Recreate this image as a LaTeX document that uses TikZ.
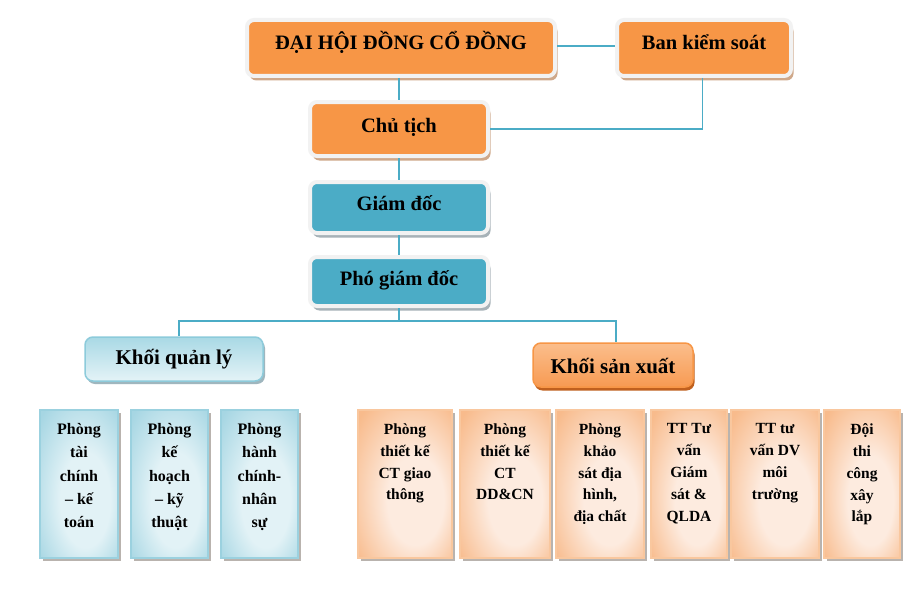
\documentclass[tikz,border=0pt]{standalone}
\usepackage{fontspec}
\setmainfont{Liberation Serif}
\usetikzlibrary{shadows}
\definecolor{org}{HTML}{F79646}
\definecolor{blu}{HTML}{4BACC6}
\definecolor{lnc}{HTML}{4BACC6}
\definecolor{framec}{HTML}{F2F2F2}
\definecolor{tanc}{HTML}{CFA88A}
\definecolor{gryc}{HTML}{A7B2B8}
\definecolor{kqlbd}{HTML}{8DCBDB}
\definecolor{kqltop}{HTML}{A9D9E5}
\definecolor{kqlbot}{HTML}{E4F3F7}
\definecolor{kqlsh}{HTML}{9FB6BE}
\definecolor{ksxtop}{HTML}{FBBE8C}
\definecolor{ksxbot}{HTML}{F79A52}
\definecolor{ksxsh}{HTML}{C0601E}
\definecolor{dbbd}{HTML}{9BD1DF}
\definecolor{dbout}{HTML}{A6D6E3}
\definecolor{dbin}{HTML}{E2F2F6}
\definecolor{dobd}{HTML}{F9C79E}
\definecolor{doout}{HTML}{F8BB8C}
\definecolor{doin}{HTML}{FDEBDF}
\definecolor{dsh}{HTML}{B9B3AE}
\pgfdeclareradialshading{bglow}{\pgfpoint{6bp}{-8bp}}{color(0bp)=(dbin); color(16bp)=(dbin); color(36bp)=(dbout); color(50bp)=(dbout)}
\pgfdeclareradialshading{oglow}{\pgfpoint{8bp}{-8bp}}{color(0bp)=(doin); color(15bp)=(doin); color(36bp)=(doout); color(50bp)=(doout)}
\begin{document}
\begin{tikzpicture}[x=1pt,y=-1pt,
  conn/.style={draw=lnc, line width=1.6pt},
  base/.style={text height=#1, text depth=0pt},
  topbox/.style={draw=framec, line width=4pt, rounded corners=7pt, inner sep=0pt,
    font=\bfseries\fontsize{20.5}{24}\selectfont,
    drop shadow={shadow xshift=2.5pt, shadow yshift=-4.5pt, fill=#1, opacity=1}},
  khoibox/.style={draw=#1, line width=1.5pt, rounded corners=8pt, inner sep=0pt,
    font=\bfseries\fontsize{21}{24}\selectfont},
  deptbox/.style={line width=2pt, inner sep=0pt, minimum height=148pt,
    drop shadow={shadow xshift=3pt, shadow yshift=-3pt, fill=dsh, opacity=1}},
  dbluebox/.style={deptbox, draw=dbbd, shading=bglow},
  dorgbox/.style={deptbox, draw=dobd, shading=oglow},
  btext/.style={anchor=north, inner sep=0pt, align=center, yshift=-14.5pt,
    font=\bfseries\fontsize{16}{23.1}\selectfont},
  otext/.style={anchor=north, inner sep=0pt, align=center, yshift=-14.5pt,
    font=\bfseries\fontsize{15.5}{21.8}\selectfont}
]
\useasboundingbox[fill=white] (0,0) rectangle (924,602);

% top boxes
\node[topbox=tanc, fill=org, minimum width=308pt, minimum height=56pt, base=4pt] (dh) at (401,48)
  {ĐẠI HỘI ĐỒNG CỔ ĐỒNG};
\node[topbox=tanc, fill=org, minimum width=174pt, minimum height=56pt, base=3pt] (bks) at (704,48)
  {Ban kiểm soát};
\node[topbox=tanc, fill=org, minimum width=178pt, minimum height=54pt, base=7.4pt] (ct) at (399,129)
  {Chủ tịch};
\node[topbox=gryc, fill=blu, minimum width=178pt, minimum height=51pt, base=6.4pt] (gd) at (399,207.5)
  {Giám đốc};
\node[topbox=gryc, fill=blu, minimum width=178pt, minimum height=49pt, base=7pt] (pgd) at (399,281.5)
  {Phó giám đốc};

% khoi boxes
\node[khoibox=kqlbd, top color=kqltop, bottom color=kqlbot, minimum width=178pt, minimum height=44pt,
  base=11pt, drop shadow={shadow xshift=2pt, shadow yshift=-3pt, fill=kqlsh, opacity=1}] (kql) at (174,359)
  {Khối quản lý};
\node[khoibox=org, top color=ksxtop, bottom color=ksxbot, minimum width=160pt, minimum height=44pt,
  base=16.6pt, drop shadow={shadow xshift=1.5pt, shadow yshift=-3.5pt, fill=ksxsh, opacity=1}] (ksx) at (613,365)
  {Khối sản xuất};

% connectors
\draw[conn] ([yshift=2pt]dh.east) -- ([yshift=2pt]dh.east -| bks.west);
\draw[conn] (ct.north |- dh.south) -- (ct.north);
\draw[conn] ([xshift=-1.5pt]bks.south) |- (ct.east);
\draw[conn] (ct.south) -- (gd.north);
\draw[conn] (gd.south) -- (pgd.north);
\coordinate (bus) at (399,321);
\draw[conn] (pgd.south) -- (bus) -| ([xshift=5pt]kql.north);
\draw[conn] (bus) -| ([xshift=3pt]ksx.north);

% management departments
\node[dbluebox, minimum width=78pt] (b1) at (79,484) {};
\node[dbluebox, minimum width=77pt] (b2) at (169.5,484) {};
\node[dbluebox, minimum width=77pt] (b3) at (259.5,484) {};
\node[btext] (tb1) at (b1.north) {Phòng\\tài\\chính\\– kế\\toán};
\node[btext] (tb2) at (b2.north) {Phòng\\kế\\hoạch\\– kỹ\\thuật};
\node[btext] (tb3) at (b3.north) {Phòng\\hành\\chính-\\nhân\\sự};

% production departments
\node[dorgbox, minimum width=94pt] (o1) at (405,484) {};
\node[dorgbox, minimum width=90pt] (o2) at (505,484) {};
\node[dorgbox, minimum width=88pt] (o3) at (600,484) {};
\node[dorgbox, minimum width=76pt] (o4) at (689,484) {};
\node[dorgbox, minimum width=88pt] (o5) at (775,484) {};
\node[dorgbox, minimum width=76pt] (o6) at (862,484) {};
\node[otext] (to1) at (o1.north) {Phòng\\thiết kế\\CT giao\\thông};
\node[otext] (to2) at (o2.north) {Phòng\\thiết kế\\CT\\DD\&CN};
\node[otext] (to3) at (o3.north) {Phòng\\khảo\\sát địa\\hình,\\địa chất};
\node[otext] (to4) at (o4.north) {TT Tư\\vấn\\Giám\\sát \&\\QLDA};
\node[otext] (to5) at (o5.north) {TT tư\\vấn DV\\môi\\trường};
\node[otext] (to6) at (o6.north) {Đội\\thi\\công\\xây\\lắp};
\end{tikzpicture}
\end{document}
